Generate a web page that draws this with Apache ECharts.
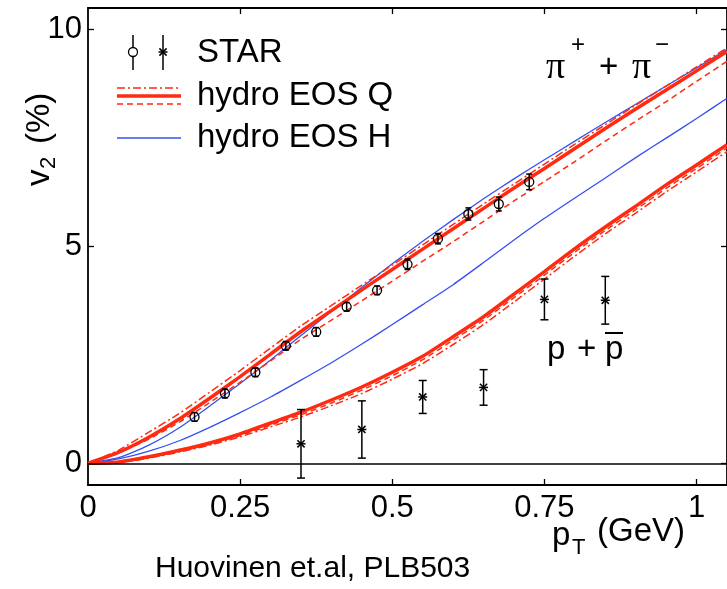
<!DOCTYPE html>
<html>
<head>
<meta charset="utf-8">
<script src="https://cdn.jsdelivr.net/npm/echarts@6/dist/echarts.min.js"></script>
<style>
  html, body { margin: 0; padding: 0; background: #fff; }
  #chart { width: 727px; height: 589px; }
</style>
</head>
<body>
<div id="chart"></div>
<script>
// pT grid for the hydro curves (GeV)
const ptGrid = [0, 0.05, 0.1, 0.15, 0.2, 0.25, 0.3, 0.35, 0.4, 0.45, 0.5, 0.55,
  0.6, 0.65, 0.7, 0.75, 0.8, 0.85, 0.9, 0.95, 1.0, 1.05]

// pions, hydro EOS Q (three variants) and EOS H, v2 in %
const pionQSolid = [0, 0.25, 0.6, 1.02, 1.5, 2.0, 2.52, 3.04, 3.52, 4.0, 4.47, 4.94,
  5.41, 5.88, 6.35, 6.8, 7.26, 7.72, 8.17, 8.61, 9.05, 9.5]
const pionQDashDot = [0, 0.3, 0.72, 1.15, 1.64, 2.14, 2.66, 3.17, 3.64, 4.11, 4.57, 5.04,
  5.51, 5.98, 6.44, 6.9, 7.36, 7.81, 8.26, 8.7, 9.14, 9.58]
const pionQDashed = [0, 0.24, 0.56, 0.95, 1.4, 1.87, 2.36, 2.86, 3.3, 3.75, 4.2, 4.66,
  5.11, 5.58, 6.05, 6.5, 6.96, 7.43, 7.89, 8.34, 8.81, 9.27]
const pionH = [0, 0.13, 0.42, 0.82, 1.32, 1.84, 2.38, 2.95, 3.5, 4.06, 4.6, 5.12,
  5.62, 6.1, 6.56, 7.0, 7.43, 7.86, 8.28, 8.7, 9.12, 9.55]

// protons
const protonQSolid = [0, 0.03, 0.15, 0.3, 0.47, 0.68, 0.93, 1.18, 1.46, 1.76, 2.1, 2.47,
  2.92, 3.38, 3.9, 4.42, 4.95, 5.45, 5.93, 6.42, 6.88, 7.35]
const protonQDashDot = [0, 0.02, 0.12, 0.26, 0.42, 0.61, 0.84, 1.07, 1.33, 1.61, 1.94, 2.3,
  2.74, 3.2, 3.72, 4.25, 4.78, 5.29, 5.77, 6.26, 6.72, 7.19]
const protonQDashed = [0, 0.03, 0.14, 0.28, 0.44, 0.64, 0.88, 1.12, 1.39, 1.69, 2.02, 2.39,
  2.84, 3.3, 3.82, 4.34, 4.87, 5.37, 5.85, 6.34, 6.8, 7.27]
const protonH = [0, 0.1, 0.28, 0.52, 0.83, 1.17, 1.53, 1.92, 2.32, 2.75, 3.2, 3.66,
  4.12, 4.63, 5.15, 5.65, 6.12, 6.58, 7.05, 7.5, 7.95, 8.42]

// STAR data
const starPionPt = [0.175, 0.225, 0.275, 0.325, 0.375, 0.425, 0.475, 0.525, 0.575, 0.625, 0.675, 0.725]
const starPionV2 = [1.07, 1.61, 2.1, 2.71, 3.03, 3.61, 3.99, 4.59, 5.18, 5.75, 5.98, 6.49]
const starPionErr = [0.1, 0.1, 0.1, 0.1, 0.1, 0.1, 0.1, 0.12, 0.12, 0.14, 0.16, 0.18]

const starProtonPt = [0.35, 0.45, 0.55, 0.65, 0.75, 0.85]
const starProtonV2 = [0.45, 0.78, 1.53, 1.75, 3.78, 3.76]
const starProtonErr = [0.79, 0.66, 0.38, 0.41, 0.47, 0.55]

// axis ticks
const xTicks = [0, 0.25, 0.5, 0.75, 1]
const yTicks = [0, 5, 10]

const RED = '#ff2a10'
const BLUE = '#3450f2'
const FONT = '"Liberation Sans", Arial, sans-serif'
const DASHDOT = [8, 3, 2, 3]
const DASHED = [6, 4]

const pairs = (ys) => ptGrid.map((x, i) => [x, ys[i]])
const triples = (xs, ys, es) => xs.map((x, i) => [x, ys[i], es[i]])

const curve = (name, ys, color, width, type, z) => ({
  name,
  type: 'line',
  data: pairs(ys),
  symbol: 'none',
  smooth: 0.2,
  silent: true,
  z: z || 2,
  lineStyle: { color, width, type: type || 'solid' },
})

const errorBars = (kind) => (params, api) => {
  const x = api.value(0)
  const y = api.value(1)
  const e = api.value(2)
  const c = api.coord([x, y])
  const top = api.coord([x, y + e])[1]
  const bot = api.coord([x, y - e])[1]
  const cap = kind === 'pion' ? 3 : 4
  const st = { stroke: '#000', lineWidth: 1.5, fill: null }
  const children = [
    { type: 'line', shape: { x1: c[0], y1: top, x2: c[0], y2: bot }, style: st },
    { type: 'line', shape: { x1: c[0] - cap, y1: top, x2: c[0] + cap, y2: top }, style: st },
    { type: 'line', shape: { x1: c[0] - cap, y1: bot, x2: c[0] + cap, y2: bot }, style: st },
  ]
  if (kind === 'pion') {
    children.push({ type: 'circle', shape: { cx: c[0], cy: c[1], r: 4.5 }, style: { stroke: '#000', lineWidth: 1.3, fill: null } })
  } else {
    const s = 4.5
    children.push({ type: 'line', shape: { x1: c[0] - s, y1: c[1], x2: c[0] + s, y2: c[1] }, style: st })
    children.push({ type: 'line', shape: { x1: c[0] - s * 0.8, y1: c[1] - s * 0.8, x2: c[0] + s * 0.8, y2: c[1] + s * 0.8 }, style: st })
    children.push({ type: 'line', shape: { x1: c[0] - s * 0.8, y1: c[1] + s * 0.8, x2: c[0] + s * 0.8, y2: c[1] - s * 0.8 }, style: st })
  }
  return { type: 'group', children }
}

const txt = (text, x, y, size, extra) => ({
  type: 'text',
  x,
  y,
  silent: true,
  style: Object.assign({
    text,
    fontSize: size,
    fontFamily: FONT,
    fill: '#000',
    align: 'left',
    textAlign: 'left',
    verticalAlign: 'middle',
    textVerticalAlign: 'middle',
  }, extra || {}),
})

const ln = (x1, y1, x2, y2, stroke, lineWidth, lineDash) => ({
  type: 'line',
  silent: true,
  shape: { x1, y1, x2, y2 },
  style: { stroke, lineWidth, lineDash: lineDash || null },
})

const SERIF = '"Liberation Serif", "DejaVu Serif", serif'

const graphics = [
  // legend
  ln(133, 35, 133, 70, '#000', 1.5),
  { type: 'circle', silent: true, shape: { cx: 133, cy: 52, r: 4.5 }, style: { stroke: '#000', lineWidth: 1.3, fill: '#fff' } },
  ln(163, 35, 163, 70, '#000', 1.5),
  ln(158.5, 52, 167.5, 52, '#000', 1.5),
  ln(159.4, 48.4, 166.6, 55.6, '#000', 1.5),
  ln(159.4, 55.6, 166.6, 48.4, '#000', 1.5),
  txt('STAR', 197, 53, 33),
  ln(117, 88, 181, 88, RED, 1.5, DASHDOT),
  ln(117, 96, 181, 96, RED, 3.5),
  ln(117, 104, 181, 104, RED, 1.5, DASHED),
  txt('hydro EOS Q', 197, 96, 33),
  ln(117, 138, 181, 138, BLUE, 1.3),
  txt('hydro EOS H', 197, 138, 33),

  // pi+ + pi-
  txt('π', 546, 68, 38, { fontFamily: SERIF }),
  txt('+', 571, 45, 24),
  txt('+', 599, 68, 33),
  txt('π', 632, 68, 38, { fontFamily: SERIF }),
  txt('−', 655, 45, 24),

  // p + pbar
  txt('p', 547, 350, 33),
  txt('+', 577, 350, 33),
  txt('p', 605, 350, 33),
  ln(605, 333, 623, 333, '#000', 2),

  // y axis name, rotated
  {
    type: 'group',
    x: 40,
    y: 186,
    rotation: Math.PI / 2,
    children: [
      txt('v', 0, 0, 33),
      txt('2', 17, 9, 22),
      txt('(%)', 42, 0, 33),
    ],
  },

  // x axis name
  txt('p', 552, 536, 33),
  txt('T', 572, 548, 22),
  txt('(GeV)', 597, 532, 33),

  // reference
  txt('Huovinen et.al, PLB503', 155, 569, 30),
]

const chart = echarts.init(document.getElementById('chart'), null, { renderer: 'canvas' })

const axisBase = {
  type: 'value',
  splitLine: { show: false },
  axisLine: { show: true, onZero: false, lineStyle: { color: '#000', width: 1.8 } },
  axisTick: { show: true, inside: true, length: 6, lineStyle: { color: '#000', width: 1.3 } },
}

chart.setOption({
  animation: false,
  backgroundColor: '#fff',
  grid: { left: 88, top: 8, width: 642.6, height: 477, containLabel: false },
  xAxis: [
    Object.assign({}, axisBase, {
      min: 0, max: 1.05, position: 'bottom',
      axisTick: Object.assign({}, axisBase.axisTick, { customValues: xTicks.slice(1) }),
      axisLabel: { customValues: xTicks, margin: 8, color: '#000', fontSize: 31, fontFamily: FONT },
    }),
    Object.assign({}, axisBase, {
      min: 0, max: 1.05, position: 'top',
      axisTick: Object.assign({}, axisBase.axisTick, { customValues: xTicks.slice(1) }),
      axisLabel: { show: false },
    }),
  ],
  yAxis: [
    Object.assign({}, axisBase, {
      min: -0.5, max: 10.5, position: 'left',
      axisTick: Object.assign({}, axisBase.axisTick, { customValues: yTicks }),
      axisLabel: { customValues: yTicks, margin: 6, color: '#000', fontSize: 31, fontFamily: FONT },
    }),
    Object.assign({}, axisBase, {
      min: -0.5, max: 10.5, position: 'right',
      axisTick: Object.assign({}, axisBase.axisTick, { customValues: yTicks }),
      axisLabel: { show: false },
    }),
  ],
  series: [
    Object.assign(curve('pion EOS H', pionH, BLUE, 1.3), {
      markLine: {
        silent: true,
        symbol: 'none',
        label: { show: false },
        lineStyle: { color: '#000', width: 1.5, type: 'solid' },
        data: [{ yAxis: 0 }],
      },
    }),
    curve('pion EOS Q dash-dot', pionQDashDot, RED, 1.5, DASHDOT),
    curve('pion EOS Q dashed', pionQDashed, RED, 1.5, DASHED),
    curve('pion EOS Q', pionQSolid, RED, 3.5, 'solid', 3),
    curve('proton EOS H', protonH, BLUE, 1.3),
    curve('proton EOS Q dash-dot', protonQDashDot, RED, 1.5, DASHDOT),
    curve('proton EOS Q dashed', protonQDashed, RED, 1.5, DASHED),
    curve('proton EOS Q', protonQSolid, RED, 3.5, 'solid', 3),
    {
      name: 'STAR pion',
      type: 'custom',
      renderItem: errorBars('pion'),
      data: triples(starPionPt, starPionV2, starPionErr),
      z: 5,
      silent: true,
    },
    {
      name: 'STAR proton',
      type: 'custom',
      renderItem: errorBars('proton'),
      data: triples(starProtonPt, starProtonV2, starProtonErr),
      z: 5,
      silent: true,
    },
  ],
  graphic: { elements: graphics },
})
</script>
</body>
</html>
